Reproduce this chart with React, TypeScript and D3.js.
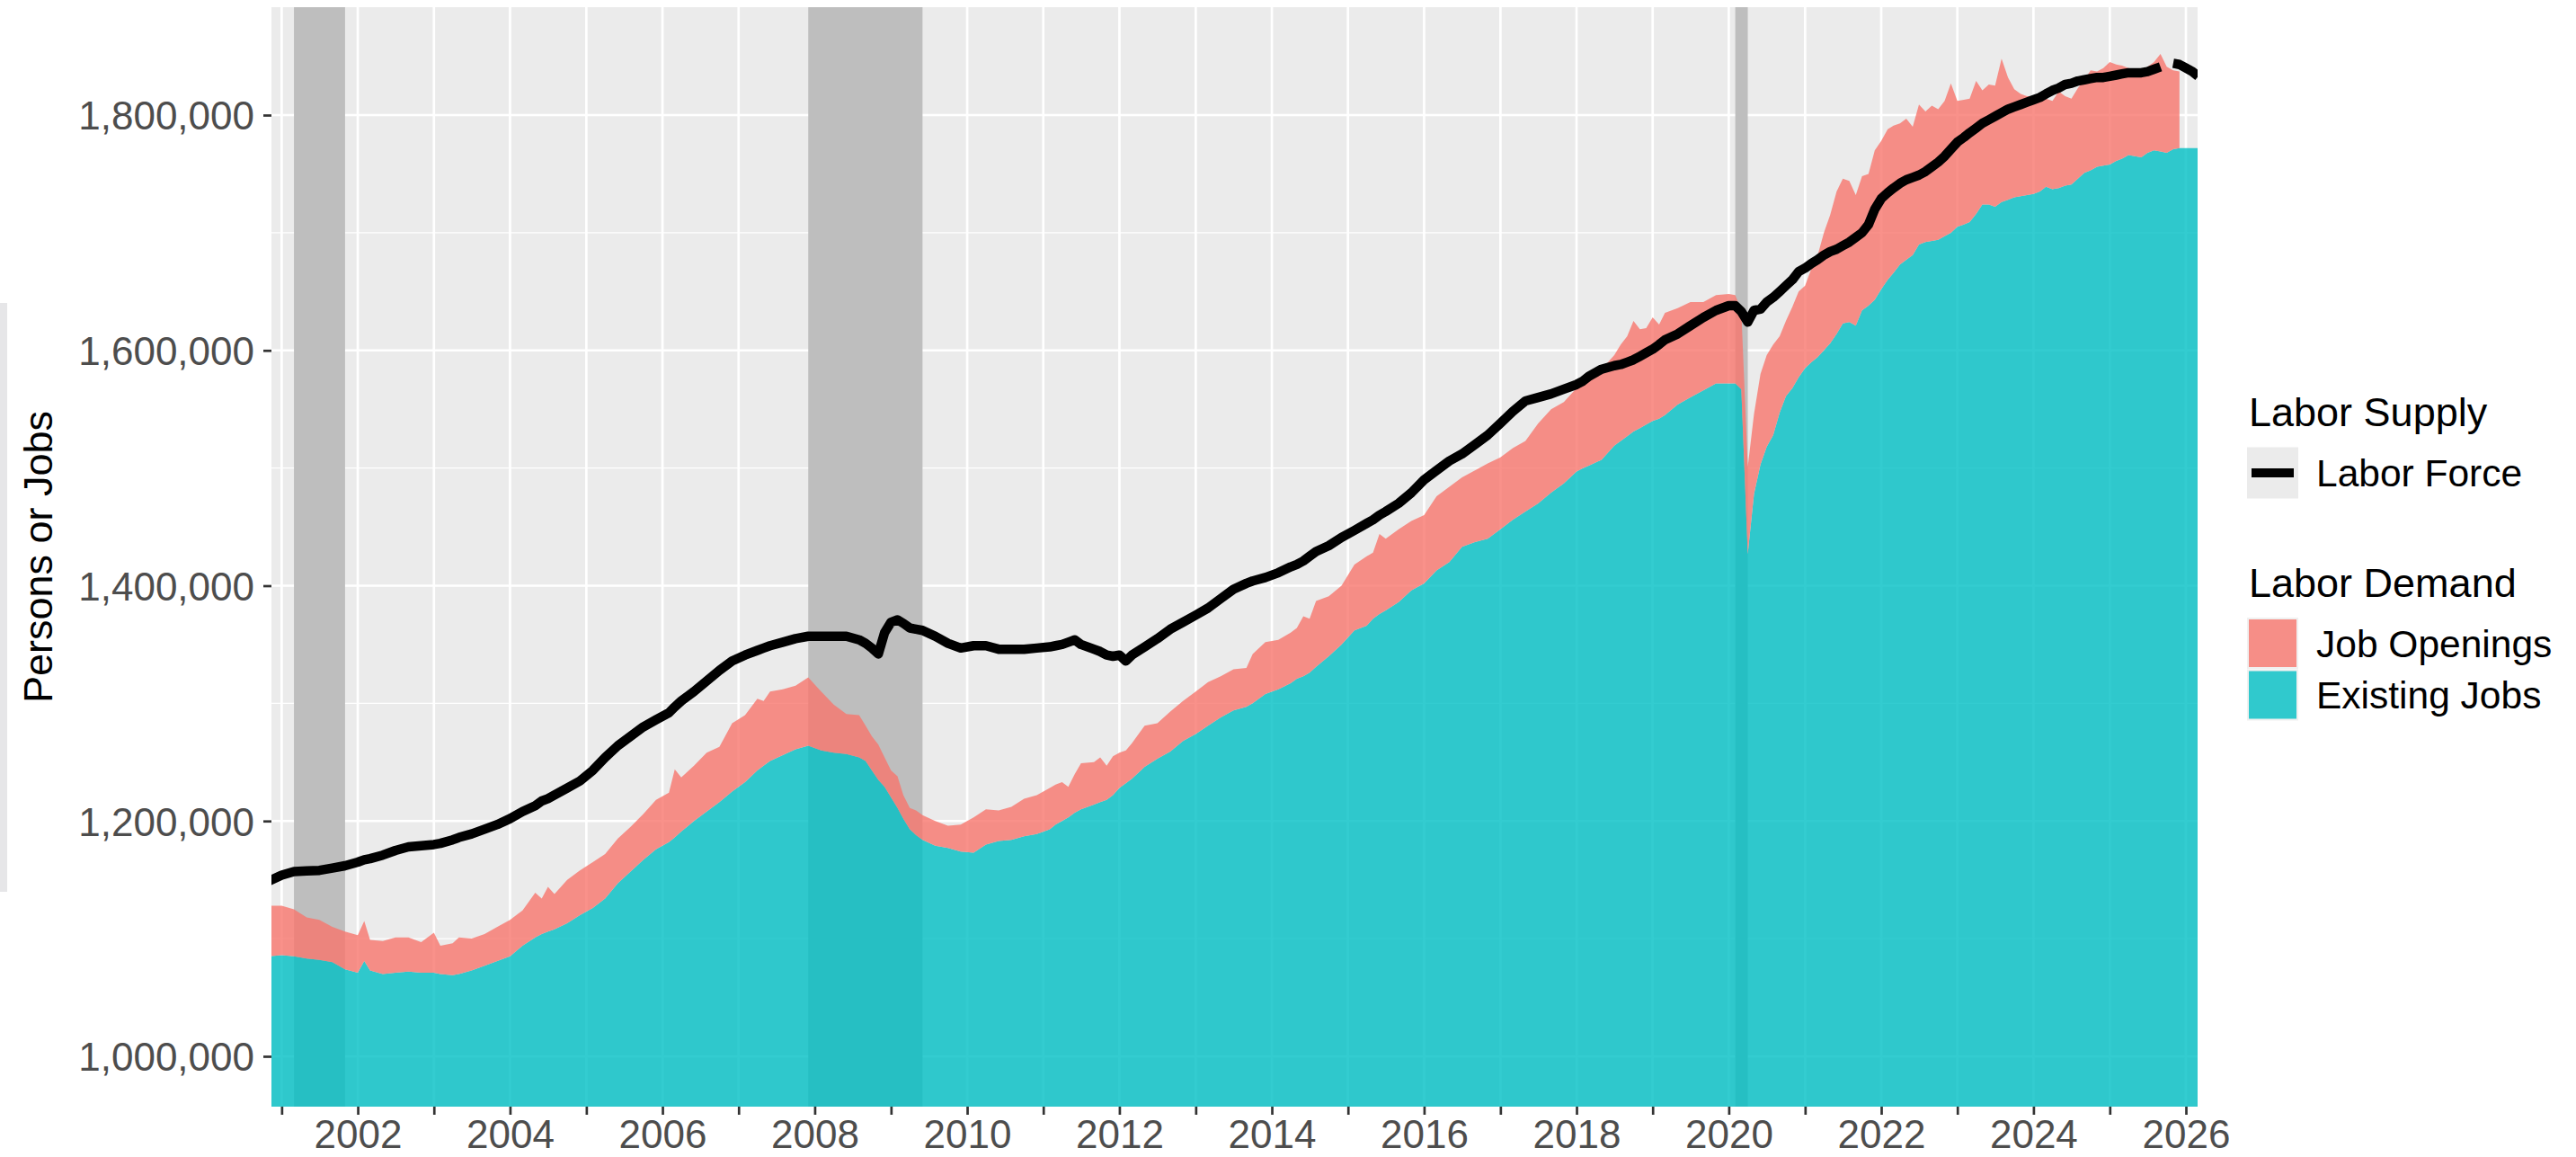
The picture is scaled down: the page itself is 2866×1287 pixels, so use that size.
import { useEffect, useRef } from 'react'
import * as d3 from 'd3'

// monthly readings (thousands of persons / jobs), one line per year
const months = [
  '2000-11',
  '2001-01', '2001-03', '2001-05', '2001-07', '2001-09', '2001-11',
  '2002-01', '2002-02', '2002-03', '2002-05', '2002-07', '2002-09', '2002-11',
  '2003-01', '2003-02', '2003-04', '2003-05', '2003-07', '2003-09', '2003-11',
  '2004-01', '2004-03', '2004-05', '2004-06', '2004-07', '2004-08', '2004-10', '2004-12',
  '2005-02', '2005-04', '2005-06', '2005-08', '2005-10', '2005-12',
  '2006-02', '2006-03', '2006-04', '2006-06', '2006-08', '2006-10', '2006-12',
  '2007-02', '2007-04', '2007-05', '2007-06', '2007-08', '2007-10', '2007-12',
  '2008-02', '2008-04', '2008-06', '2008-08', '2008-09', '2008-10', '2008-11', '2008-12',
  '2009-01', '2009-02', '2009-03', '2009-04', '2009-05', '2009-06', '2009-08', '2009-10', '2009-12',
  '2010-02', '2010-04', '2010-06', '2010-08', '2010-10', '2010-12',
  '2011-02', '2011-03', '2011-04', '2011-05', '2011-06', '2011-07', '2011-09', '2011-10', '2011-11', '2011-12',
  '2012-01', '2012-02', '2012-03', '2012-05', '2012-07', '2012-09', '2012-11',
  '2013-01', '2013-03', '2013-05', '2013-07', '2013-09', '2013-10', '2013-12',
  '2014-02', '2014-04', '2014-05', '2014-06', '2014-07', '2014-08', '2014-10', '2014-12',
  '2015-02', '2015-04', '2015-05', '2015-06', '2015-07', '2015-09', '2015-11',
  '2016-01', '2016-03', '2016-05', '2016-07', '2016-09', '2016-11',
  '2017-01', '2017-03', '2017-05', '2017-07', '2017-09', '2017-11',
  '2018-01', '2018-02', '2018-03', '2018-05', '2018-07', '2018-08', '2018-09', '2018-10', '2018-11', '2018-12',
  '2019-01', '2019-02', '2019-03', '2019-05', '2019-07', '2019-09', '2019-11',
  '2020-01', '2020-02', '2020-03', '2020-04', '2020-05', '2020-06', '2020-07', '2020-08', '2020-09', '2020-10', '2020-11', '2020-12',
  '2021-01', '2021-02', '2021-03', '2021-04', '2021-05', '2021-06', '2021-07', '2021-08', '2021-09', '2021-10', '2021-11', '2021-12',
  '2022-01', '2022-02', '2022-03', '2022-04', '2022-05', '2022-06', '2022-07', '2022-08', '2022-09', '2022-10', '2022-11', '2022-12',
  '2023-01', '2023-02', '2023-03', '2023-04', '2023-05', '2023-06', '2023-07', '2023-08', '2023-09', '2023-10', '2023-11', '2023-12',
  '2024-01', '2024-02', '2024-03', '2024-04', '2024-05', '2024-06', '2024-07', '2024-08', '2024-09', '2024-10', '2024-11', '2024-12',
  '2025-01', '2025-02', '2025-03', '2025-04', '2025-05', '2025-06', '2025-07', '2025-08', '2025-09', '2025-10', '2025-11', '2025-12',
  '2026-01', '2026-02', '2026-03',
]

const laborForce = [
  1149,
  1154, 1157, 1157.5, 1158, 1160, 1162,
  1165, 1167, 1168, 1171, 1175, 1178, 1179,
  1180, 1181, 1184, 1186, 1189, 1193, 1197,
  1202, 1208, 1213, 1217, 1219, 1222, 1228, 1234,
  1243, 1254, 1264, 1272, 1280, 1286,
  1292, 1297, 1302, 1310, 1319, 1328, 1336,
  1341, 1345, 1347, 1349, 1352, 1355, 1357,
  1357, 1357, 1357, 1354, 1351, 1347, 1342, 1360,
  1369, 1371, 1368, 1364, 1363, 1362, 1357, 1351, 1347,
  1349, 1349, 1346, 1346, 1346, 1347,
  1348, 1349, 1350, 1352, 1354, 1350, 1346, 1344, 1341, 1340,
  1341, 1336, 1341, 1348, 1355, 1363, 1369,
  1375, 1381, 1389, 1397, 1402, 1404, 1407,
  1411, 1416, 1418, 1421, 1425, 1429, 1434, 1441,
  1447, 1453, 1456, 1460, 1463, 1470, 1479,
  1490, 1498, 1506, 1512, 1520, 1528,
  1538, 1548, 1557, 1560, 1563, 1567,
  1571, 1574, 1578, 1584, 1587, 1588, 1590, 1592, 1595, 1598,
  1601, 1605, 1609, 1614, 1621, 1628, 1634,
  1638, 1638, 1633, 1624, 1634, 1635, 1641, 1645, 1650, 1655, 1660, 1667,
  1670, 1674, 1677, 1681, 1684, 1686, 1689, 1692, 1696, 1700, 1707, 1720,
  1729, 1734, 1738, 1742, 1745, 1747, 1749, 1752, 1756, 1760, 1765, 1771,
  1777, 1781, 1785, 1789, 1793, 1796, 1799, 1802, 1805, 1807, 1809, 1811,
  1813, 1815, 1818, 1821, 1823, 1826, 1827, 1829, 1830, 1831, 1832, 1832,
  1833, 1834, 1835, 1836, 1836, 1836, 1837, 1839, 1841, null, 1844, 1843,
  1840, 1837, 1833,
]

const existingJobs = [
  1085,
  1086, 1085, 1083, 1082, 1080, 1074,
  1071, 1081, 1073, 1070, 1071, 1072, 1071,
  1071, 1070, 1069, 1070, 1073, 1077, 1081,
  1085, 1094, 1101, 1104, 1106, 1108, 1113, 1120,
  1126, 1134, 1147, 1157, 1167, 1176,
  1182, 1186, 1191, 1200, 1208, 1216, 1225,
  1233, 1243, 1247, 1251, 1256, 1261, 1264,
  1260, 1258, 1257, 1254, 1251, 1243, 1235, 1229,
  1220, 1211, 1202, 1193, 1188, 1184, 1179, 1177, 1174,
  1173, 1180, 1183, 1184, 1187, 1189,
  1193, 1197, 1200, 1203, 1207, 1210, 1214, 1216, 1218, 1222,
  1228, 1232, 1236, 1246, 1253, 1259, 1268,
  1274, 1281, 1288, 1294, 1297, 1300, 1308,
  1312, 1317, 1321, 1323, 1326, 1331, 1340, 1350,
  1362, 1366, 1372, 1376, 1379, 1386, 1396,
  1402, 1413, 1420, 1433, 1437, 1440,
  1448, 1456, 1463, 1470, 1479, 1487,
  1497, 1500, 1502, 1507, 1519, 1523, 1527, 1531, 1534, 1537,
  1540, 1542, 1545, 1554, 1560, 1566, 1572,
  1572, 1572, 1567, 1427, 1478, 1503, 1518, 1528, 1547, 1561, 1568, 1577,
  1585, 1590, 1594, 1600, 1606, 1614, 1623, 1624, 1621, 1634, 1638, 1643,
  1652, 1660, 1666, 1673, 1677, 1681, 1690, 1692, 1693, 1694, 1697, 1700,
  1705, 1707, 1709, 1716, 1724, 1724, 1722, 1726, 1728, 1730, 1731, 1732,
  1733, 1735, 1739, 1737, 1738, 1740, 1741, 1746, 1751, 1753, 1756, 1757,
  1758, 1761, 1763, 1766, 1765, 1764, 1768, 1770, 1769, 1768, 1771, 1772,
  1772, 1772, 1772,
]

const jobOpenings = [
  43,
  42, 40, 35, 34, 30, 32,
  32, 34, 26, 28, 30, 29, 26,
  34, 24, 27, 31, 27, 27, 29,
  31, 30, 38, 30, 38, 30, 37, 38,
  39, 38, 38, 38, 39, 42,
  42, 58, 46, 47, 50, 47, 58,
  57, 61, 55, 59, 56, 54, 58,
  50, 41, 34, 36, 30, 29, 30, 25,
  23, 27, 20, 18, 21, 21, 21, 19, 23,
  30, 30, 26, 28, 32, 33,
  35, 34, 33, 26, 33, 39, 36, 38, 29, 33,
  30, 28, 30, 35, 30, 34, 34,
  36, 37, 35, 35, 33, 42, 44,
  42, 43, 43, 51, 46, 56, 51, 50,
  56, 59, 56, 68, 61, 62, 59,
  58, 63, 64, 59, 61, 64,
  61, 61, 60, 68, 71, 69,
  71, 78, 74, 77, 77, 82, 85, 94, 84, 82,
  88, 80, 87, 82, 81, 75, 75,
  76, 75, 67, 74, 68, 77, 78, 77, 65, 64, 69, 73,
  70, 80, 86, 100, 109, 121, 123, 120, 111, 114, 112, 127,
  126, 128, 125, 120, 120, 109, 119, 111, 115, 111, 115, 127,
  107, 106, 105, 113, 97, 102, 103, 122, 104, 92, 87, 84,
  83, 80, 75, 75, 82, 76, 73, 77, 79, 85, 81, 83,
  87, 82, 79, 74, 74, 73, 73, 75, 83, 73, 67, 65,
  null, null, null,
]

const recessions = [
  ['2001-03', '2001-11'],
  ['2007-12', '2009-06'],
  ['2020-02', '2020-04'],
]

const yMajor = [1000000, 1200000, 1400000, 1600000, 1800000]
const yMinor = [1100000, 1300000, 1500000, 1700000]
const tickYears = d3.range(2001, 2027)

const W = 2866
const H = 1287
const panel = { left: 302, top: 8, right: 2445, bottom: 1231 }
const font = 'Liberation Sans, Arial, sans-serif'
const teal = '#00BFC4'
const salmon = '#F8766D'

export default function App() {
  const ref = useRef<SVGSVGElement>(null)

  useEffect(() => {
    document.body.style.margin = '0'
    const svg = d3.select(ref.current)
    svg.selectAll('*').remove()

    const parse = d3.timeParse('%Y-%m')
    const rows = months.map((m, i) => ({
      date: parse(m) as Date,
      lf: laborForce[i],
      jobs: existingJobs[i],
      open: jobOpenings[i],
    }))

    const x = d3.scaleTime()
      .domain([new Date(2000, 10, 13), new Date(2026, 1, 26)])
      .range([panel.left, panel.right])
    const y = d3.scaleLinear()
      .domain([957200, 1891700])
      .range([panel.bottom, panel.top])

    svg.append('rect').attr('width', W).attr('height', H).attr('fill', '#fff')
    // stray grey strip at the left edge
    svg.append('rect').attr('x', 0).attr('y', 337).attr('width', 8).attr('height', 655).attr('fill', '#E6E6E8')

    svg.append('clipPath').attr('id', 'panelClip')
      .append('rect')
      .attr('x', panel.left).attr('y', panel.top)
      .attr('width', panel.right - panel.left).attr('height', panel.bottom - panel.top)

    svg.append('rect')
      .attr('x', panel.left).attr('y', panel.top)
      .attr('width', panel.right - panel.left).attr('height', panel.bottom - panel.top)
      .attr('fill', '#EBEBEB')

    // grid
    const grid = svg.append('g').attr('stroke', '#fff')
    grid.selectAll('.minor').data(yMinor).enter().append('line')
      .attr('x1', panel.left).attr('x2', panel.right)
      .attr('y1', d => y(d)).attr('y2', d => y(d))
      .attr('stroke-width', 1.35)
    grid.selectAll('.major').data(yMajor).enter().append('line')
      .attr('x1', panel.left).attr('x2', panel.right)
      .attr('y1', d => y(d)).attr('y2', d => y(d))
      .attr('stroke-width', 2.7)
    grid.selectAll('.vert').data(tickYears).enter().append('line')
      .attr('y1', panel.top).attr('y2', panel.bottom)
      .attr('x1', d => x(new Date(d, 0, 1))).attr('x2', d => x(new Date(d, 0, 1)))
      .attr('stroke-width', 2.7)

    const plot = svg.append('g').attr('clip-path', 'url(#panelClip)')

    // recession bars
    plot.selectAll('.rec').data(recessions).enter().append('rect')
      .attr('x', d => x(parse(d[0]) as Date))
      .attr('width', d => x(parse(d[1]) as Date) - x(parse(d[0]) as Date))
      .attr('y', panel.top).attr('height', panel.bottom - panel.top)
      .attr('fill', '#BEBEBE')

    const jobsArea = d3.area<any>()
      .x(d => x(d.date))
      .y0(panel.bottom)
      .y1(d => y(d.jobs * 1000))
    plot.append('path').datum(rows).attr('d', jobsArea)
      .attr('fill', teal).attr('fill-opacity', 0.8)

    const openArea = d3.area<any>()
      .defined(d => d.open != null)
      .x(d => x(d.date))
      .y0(d => y(d.jobs * 1000))
      .y1(d => y((d.jobs + d.open) * 1000))
    plot.append('path').datum(rows).attr('d', openArea)
      .attr('fill', salmon).attr('fill-opacity', 0.8)

    const lfLine = d3.line<any>()
      .defined(d => d.lf != null)
      .x(d => x(d.date))
      .y(d => y(d.lf * 1000))
    plot.append('path').datum(rows).attr('d', lfLine)
      .attr('fill', 'none').attr('stroke', '#000')
      .attr('stroke-width', 10.5).attr('stroke-linejoin', 'round')

    // axes
    const yAxis = d3.axisLeft(y)
      .tickValues(yMajor)
      .tickFormat(d3.format(','))
      .tickSize(9)
      .tickPadding(10)
    const gy = svg.append('g').attr('transform', `translate(${panel.left},0)`).call(yAxis)

    const xAxis = d3.axisBottom(x)
      .tickValues(tickYears.map(yr => new Date(yr, 0, 1)))
      .tickFormat((d: any) => (d.getFullYear() % 2 === 0 ? String(d.getFullYear()) : ''))
      .tickSize(9)
      .tickPadding(6)
    const gx = svg.append('g').attr('transform', `translate(0,${panel.bottom})`).call(xAxis)

    for (const g of [gx, gy]) {
      g.select('.domain').remove()
      g.selectAll('.tick line').attr('stroke', '#333333').attr('stroke-width', 2.7)
      g.selectAll('.tick text')
        .attr('fill', '#4D4D4D')
        .style('font-size', '44px')
        .style('font-family', font)
    }
    gy.selectAll('.tick text').attr('dy', '0.36em')

    svg.append('text')
      .attr('transform', `translate(58,${(panel.top + panel.bottom) / 2}) rotate(-90)`)
      .attr('text-anchor', 'middle')
      .style('font-size', '45px').style('font-family', font)
      .text('Persons or Jobs')

    // legend
    const legend = svg.append('g').style('font-family', font)
    legend.append('text').attr('x', 2502).attr('y', 474).style('font-size', '45px').text('Labor Supply')
    legend.append('rect').attr('x', 2500).attr('y', 497.5).attr('width', 57).attr('height', 57).attr('fill', '#EBEBEB')
    legend.append('line')
      .attr('x1', 2505).attr('x2', 2552).attr('y1', 526).attr('y2', 526)
      .attr('stroke', '#000').attr('stroke-width', 10)
    legend.append('text').attr('x', 2577).attr('y', 541).style('font-size', '42.5px').text('Labor Force')

    legend.append('text').attr('x', 2502).attr('y', 664).style('font-size', '45px').text('Labor Demand')
    const demandKeys = [
      { label: 'Job Openings', color: salmon },
      { label: 'Existing Jobs', color: teal },
    ]
    demandKeys.forEach((k, i) => {
      const top = 687 + i * 57.5
      legend.append('rect').attr('x', 2500).attr('y', top).attr('width', 57).attr('height', 57).attr('fill', '#F0F0F0')
      legend.append('rect').attr('x', 2502).attr('y', top + 2).attr('width', 53).attr('height', 53)
        .attr('fill', k.color).attr('fill-opacity', 0.8)
      legend.append('text').attr('x', 2577).attr('y', top + 43.5).style('font-size', '42.5px').text(k.label)
    })
  }, [])

  return <svg ref={ref} width={W} height={H} style={{ display: 'block' }} />
}
